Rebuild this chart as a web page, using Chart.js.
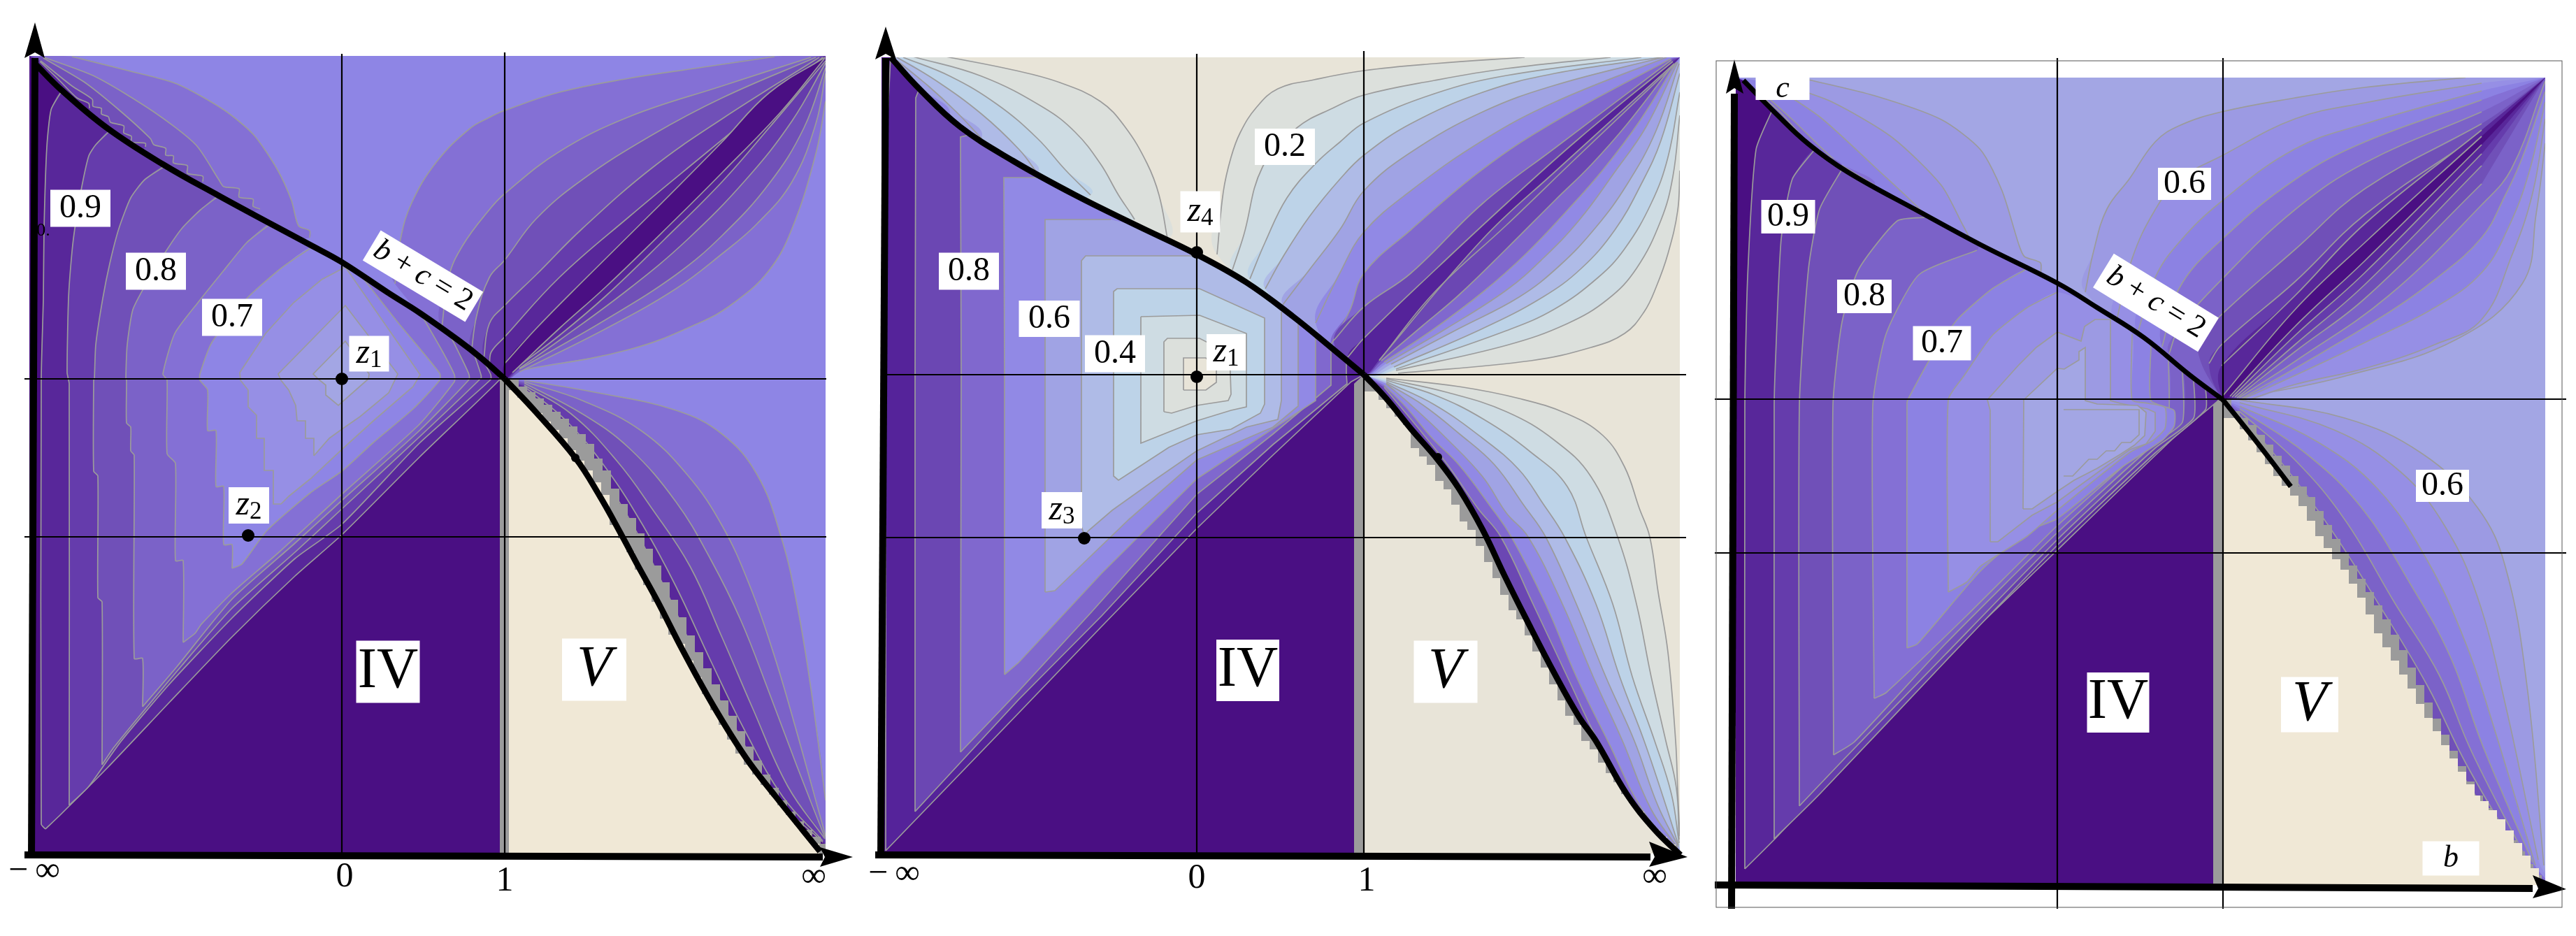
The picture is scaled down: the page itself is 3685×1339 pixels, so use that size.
<!DOCTYPE html>
<html>
<head>
<meta charset="utf-8">
<title>contours</title>
<script src="https://cdn.jsdelivr.net/npm/chart.js@4"></script>
<style>
body { margin: 0; background: #fff; width: 3685px; height: 1339px; overflow: hidden; position: relative; }
canvas { position: absolute; top: 0; }
</style>
</head>
<body>
<canvas id="c1" width="1230" height="1339" style="left:0"></canvas>
<canvas id="c2" width="1210" height="1339" style="left:1230px"></canvas>
<canvas id="c3" width="1245" height="1339" style="left:2440px"></canvas>
<script>
// everything below is in compactified axis units: (-inf,-inf) of each panel is [0,0]

// ---------- panel 1
var p1Curve = [[10,1128],[45,1093],[111,1038],[191,986],[271,941],[345,901],[405,869],[447,846],[512,803],[559,773],[614,734],[646,709],[680,679]];
var p1CurveLow = [[680,679],[725,631],[781,566],[815,513],[848,454],[871,411],[898,362],[935,290],[978,212],[1025,137],[1068,81],[1105,35],[1131,3]];
var p1Upper = [
  [[1066,1140],[958,1124],[858,1109],[758,1089],[680,1063],[658,1053],[630,1037],[583,990],[547,931],[531,879],[523,815]],
  [[1118,1139],[991,1098],[858,1054],[758,1004],[680,944],[658,921],[620,870],[600,825],[590,752]],
  [[1125,1139],[991,1081],[891,1028],[791,964],[725,908],[680,849],[658,824],[640,770],[632,715]],
  [[1130,1139],[991,1051],[891,981],[791,894],[725,828],[680,784],[658,758],[650,708]],
  [[1135,1139],[958,994],[858,911],[758,824],[680,739],[661,718],[658,700]],
  [[1138,1139],[1058,1088],[991,1018],[905,931],[791,818],[725,751],[680,701]]
];
var p1Lower = [
  [[1139,1076],[1125,1001],[1091,894],[1058,834],[1008,788],[958,759],[858,721],[701,691]],
  [[1139,1116],[1125,1044],[1091,961],[1041,901],[991,858],[925,808],[825,751],[701,689]],
  [[1139,1124],[1108,1038],[1058,958],[991,884],[925,828],[825,764],[701,693]],
  [[1139,1131],[1091,1048],[1025,964],[941,878],[858,808],[758,734],[701,694]],
  [[1139,1134],[1058,1038],[991,961],[908,878],[825,798],[758,741],[701,698]],
  [[1138,1138],[1075,1061],[991,974],[925,908],[825,811],[758,751],[691,688]]
];
var p1Right = [
  [[708,677],[808,660],[925,634],[991,600],[1041,542],[1075,454],[1098,357],[1118,236],[1139,76]],
  [[708,675],[791,648],[875,605],[941,542],[991,469],[1031,382],[1065,285],[1098,173],[1139,25]],
  [[708,673],[791,629],[858,580],[925,503],[975,420],[1018,333],[1058,231],[1098,125],[1138,23]],
  [[708,670],[775,629],[841,561],[891,493],[945,411],[991,309],[1035,207],[1085,96],[1138,21]],
  [[708,668],[768,619],[825,551],[878,469],[925,382],[975,275],[1025,173],[1078,81],[1135,18]],
  [[708,665],[758,619],[811,551],[858,479],[908,382],[958,275],[1008,183],[1068,81],[1135,16]]
];
var p1Lobes = [
  [[61,1140],[145,1119],[211,1101],[278,1064],[321,1028],[355,978],[375,934],[385,898],[401,891],[401,881]],
  [[21,1139],[95,1111],[178,1061],[238,1014],[271,964],[278,954],[300,951],[300,939],[320,936],[320,926],[330,922]],
  [[20,1138],[78,1104],[128,1064],[173,1023],[178,1014],[195,1009],[195,999],[206,998],[206,988],[226,984],[226,973],[248,969],[248,961]],
  [[16,1134],[61,1098],[90,1079],[91,1069],[103,1066],[103,1058],[113,1054],[116,1046],[135,1041],[135,1031],[146,1026],[146,1018],[166,1016],[166,1011]],
  [[15,1133],[38,1111],[43,1106],[68,1081],[85,1073],[86,1066]]
];
var p1Stair = [[673,680],[680,679],[700,668],[712,660],[724,651],[736,642],[748,632],[760,622],[772,611],[784,600],[796,586],[808,565],[820,548],[832,522],[844,500],[856,480],[868,458],[880,436],[892,412],[904,388],[916,363],[928,338],[940,312],[952,288],[964,265],[976,242],[988,219],[1000,197],[1012,175],[1024,153],[1036,133],[1048,113],[1060,94],[1072,76],[1084,60],[1096,46],[1108,34],[1120,24],[1132,14],[1139,8]];
var p1Cream = [[686,663],[698,652],[710,641],[722,630],[734,618],[746,606],[758,594],[770,577],[782,562],[794,548],[806,531],[818,513],[830,470],[842,451],[854,431],[866,406],[878,384],[890,360],[902,336],[914,313],[926,300],[938,276],[950,252],[962,228],[974,205],[986,184],[998,163],[1010,143],[1022,127],[1034,113],[1046,98],[1058,84],[1070,69],[1082,55],[1094,41],[1106,28],[1118,14],[1130,2]];
var p1Wedges = [
  { up: [[23,35],[17,42],[17,679],[20,794],[21,894],[25,1011],[31,1064],[45,1089]],
    down: [[672,683],[672,677],[558,567],[447,456],[380,397],[290,310],[201,217],[112,123],[45,56],[23,35]] },
  { up: [[57,69],[57,672],[54,688],[56,794],[61,861],[66,901],[75,954],[85,998],[95,1014],[115,1034]],
    down: [[652,700],[660,685],[660,678],[558,587],[447,471],[380,422],[290,337],[201,243],[130,159],[85,96],[57,69]] },
  { up: [[104,127],[104,360],[98,366],[98,540],[92,547],[92,677],[93,679],[95,728],[105,794],[115,844],[128,894],[145,938],[165,964],[195,984]],
    down: [[635,718],[646,685],[646,680],[558,596],[447,493],[380,431],[290,351],[219,270],[121,152],[104,127]] },
  { up: [[162,210],[162,279],[150,279],[150,570],[145,576],[145,610],[139,616],[139,677],[138,679],[140,728],[148,778],[167,815],[195,861],[218,894],[245,921],[271,941]],
    down: [[600,745],[620,705],[629,685],[629,678],[558,605],[447,505],[380,444],[290,364],[210,266],[162,210]] },
  { up: [[220,302],[220,419],[209,419],[209,558],[197,572],[197,677],[191,686],[208,744],[241,788],[278,834],[311,874],[345,901]],
    down: [[560,772],[590,720],[608,685],[608,675],[558,614],[447,514],[357,431],[290,373],[246,328],[237,315],[220,302]] },
  { up: [[290,408],[290,442],[278,442],[278,525],[267,525],[267,605],[255,605],[255,663],[244,677],[244,686],[261,731],[311,794],[361,838],[405,868]],
    down: [[475,826],[527,760],[587,687],[587,677],[549,636],[491,587],[447,547],[402,516],[340,462],[304,414],[290,408]] }
];
var p1Islands = [
  [[360,500],[349,500],[349,548],[336,548],[336,594],[325,594],[325,627],[313,639],[313,663],[302,677],[301,688],[338,744],[378,788],[418,821],[452,839],[559,685],[549,668],[491,618],[447,578],[402,536],[371,511],[360,500]],
  [[407,569],[407,594],[395,594],[395,619],[383,619],[381,641],[371,663],[360,677],[356,686],[452,784],[527,686],[514,659],[473,625],[447,607],[429,594],[407,569]],
  [[413,679],[406,686],[452,733],[486,686],[485,679],[442,641],[424,656],[424,670],[413,679]]
];
var p1Colors = ['#8E85E5','#8470D5','#7B62C8','#7050B8','#653CAC','#58279A','#4A0F83'];
var p1WedgeColors = ['#58279A','#653CAC','#7050B8','#7B62C8','#8470D5','#8E85E5'];
var p1IslandColors = ['#968FE5','#9D9BE4','#A3A6E4'];
var p1Dots = [[447,679,9],[313,455,9],[781,566,6]];
var p1TickNames = ['\u2212\u2009\u221E','0','1','\u221E'];
var p1TickValues = [7,451,680,1122];
var p1TickDrop = [-26,-34,-40,-34];
var p1Labels = [
  ['0.9',73,923,86,53],['0.8',181,833,86,53],['0.7',290,767,86,53],
  ['z_1',486,715,57,51],['z_2',314,498,58,52],['IV',513,260,91,89],['V',808,263,92,89],
  ['b + c = 2',563,826,171,50,31]
];

// ---------- panel 2
var p2Curve = [[13,1139],[54,1094],[112,1040],[188,991],[277,942],[366,898],[451,857],[522,817],[589,768],[643,724],[690,685]];
var p2CurveLow = [[690,685],[722,651],[757,608],[796,563],[826,522],[860,463],[891,398],[922,336],[963,257],[998,195],[1022,161],[1066,85],[1106,34],[1143,-2]];
var p2Upper = [
  [[920,1139],[791,1130],[690,1120],[619,1107],[567,1094],[536,1067],[513,1031],[500,996],[489,947],[480,857]],
  [[1043,1139],[894,1123],[791,1106],[690,1085],[647,1067],[594,1038],[545,982],[518,884],[502,835]],
  [[1087,1139],[894,1113],[791,1087],[690,1045],[656,1018],[621,987],[580,938],[549,875],[527,822]],
  [[1115,1139],[963,1116],[860,1089],[757,1044],[690,999],[656,965],[612,911],[574,853],[549,808]],
  [[1118,1139],[963,1099],[860,1061],[757,1003],[690,948],[656,893],[612,835],[574,785]],
  [[1123,1139],[963,1075],[860,1020],[757,948],[690,889],[656,831],[621,759]],
  [[1129,1137],[963,1047],[860,979],[757,892],[690,830],[670,777],[643,728]],
  [[1130,1135],[963,1009],[860,930],[757,830],[690,782],[647,734]],
  [[1132,1133],[998,1023],[894,930],[791,834],[690,737],[667,710]]
];
var p2Lower = [
  [[1142,977],[1139,920],[1125,858],[1108,810],[1091,775],[1063,744],[1015,724],[929,705],[739,687]],
  [[1142,1056],[1132,968],[1115,906],[1080,837],[1039,793],[981,758],[894,727],[736,691]],
  [[1142,1089],[1125,996],[1101,930],[1063,865],[1025,824],[963,779],[894,748],[736,693]],
  [[1142,1116],[1115,1020],[1087,958],[1049,892],[1001,837],[946,796],[860,751],[733,696]],
  [[1141,1130],[1108,1034],[1067,958],[1022,896],[970,841],[912,796],[826,751],[729,700]],
  [[1139,1132],[1094,1040],[1049,975],[998,906],[946,851],[894,806],[808,751],[722,701]],
  [[1137,1132],[1084,1047],[1032,978],[981,920],[922,858],[860,803],[791,751],[719,703]],
  [[1135,1132],[1067,1044],[1015,985],[963,934],[894,865],[826,799],[774,755],[715,705]],
  [[1134,1130],[963,975],[860,879],[712,706]]
];
var p2Extra = [[[1134,1128],[998,999],[894,899],[791,803],[712,705]]];
var p2Right = [
  [[722,680],[826,668],[912,651],[981,629],[1032,598],[1063,553],[1084,494],[1099,453],[1111,374],[1125,288],[1136,161],[1139,90],[1142,25]],
  [[722,679],[808,660],[894,632],[963,591],[1015,539],[1053,453],[1080,357],[1101,253],[1122,161],[1137,94],[1141,20]],
  [[722,677],[791,656],[860,622],[929,574],[981,525],[1008,453],[1046,357],[1074,253],[1106,161],[1130,85],[1141,15]],
  [[722,675],[791,642],[860,594],[912,549],[946,501],[977,453],[1022,357],[1056,253],[1091,161],[1120,75],[1140,12]],
  [[722,673],[774,642],[826,601],[877,556],[919,498],[950,453],[994,357],[1036,253],[1077,161],[1110,70],[1140,10]],
  [[722,672],[757,642],[808,594],[860,539],[894,487],[925,453],[974,357],[1018,253],[1060,161],[1100,65],[1139,8]],
  [[719,670],[750,639],[788,594],[826,556],[870,498],[901,453],[950,357],[994,253],[1039,161],[1090,60],[1139,6]],
  [[719,667],[740,642],[774,601],[812,553],[853,494],[886,453],[932,357],[981,253],[1025,161],[1085,55],[1138,5]]
];
var p2Lobes = [
  [[92,1140],[188,1121],[255,1103],[313,1076],[348,1040],[380,987],[397,942],[409,880]],
  [[45,1140],[143,1112],[232,1067],[277,1032],[313,987],[339,942],[357,915],[362,907]],
  [[31,1139],[98,1112],[165,1072],[223,1023],[263,978],[299,942]],
  [[22,1139],[76,1107],[143,1058],[197,1007],[223,973]],
  [[20,1136],[67,1098],[107,1061],[143,1023]],
  [[18,1134],[58,1094],[98,1054]]
];
var p2Cream = [[691,661],[700,661],[711,649],[722,637],[734,625],[746,613],[757,603],[757,580],[769,568],[780,556],[792,533],[804,521],[815,499],[827,475],[838,463],[850,440],[862,417],[874,394],[885,370],[897,348],[908,335],[920,312],[931,289],[943,266],[955,242],[967,219],[978,197],[990,184],[1001,161],[1013,149],[1025,130],[1036,115],[1047,102],[1058,85],[1069,72],[1080,60],[1091,45],[1102,34],[1113,24],[1124,13],[1136,3]];
var p2Wedges = [
  { up: [[6,4],[6,685],[6,1000],[13,1139]],
    down: [[690,685],[672,675],[560,570],[451,465],[315,325],[200,205],[6,4]] },
  { up: [[48,60],[48,685],[49,1081],[54,1094]],
    down: [[665,706],[665,685],[666,672],[560,585],[451,487],[315,340],[196,220],[48,60]] },
  { up: [[113,145],[114,685],[113,1025],[130,1029]],
    down: [[643,724],[643,685],[643,670],[560,600],[451,514],[300,345],[196,232],[113,145]] },
  { up: [[176,256],[176,685],[175,967],[223,967]],
    down: [[621,742],[621,648],[451,536],[315,401],[196,273],[176,256]] },
  { up: [[234,374],[234,907],[328,907]],
    down: [[596,760],[596,640],[560,610],[451,563],[354,478],[248,376],[234,374]] },
  { up: [[291,453],[286,468],[286,848],[292,855],[455,855]],
    down: [[572,775],[572,648],[567,621],[522,610],[451,576],[393,536],[330,491],[295,461],[291,453]] }
];
var p2Islands = [
  [[332,685],[332,804],[337,808],[455,808],[548,766],[548,685],[548,643],[542,630],[500,607],[451,599],[411,581],[362,549],[339,534],[332,540],[332,685]],
  [[371,768],[455,770],[522,744],[522,639],[500,634],[451,619],[411,603],[371,587],[371,768]],
  [[404,632],[404,732],[409,737],[455,737],[498,715],[500,657],[496,648],[451,641],[415,630],[404,632]],
  [[432,663],[432,709],[464,709],[479,692],[479,674],[464,663],[432,663]]
];
var p2Colors = ['#E8E4D8','#DCE0DC','#CEDCE3','#BDD3E8','#AFBBE7','#A0A3E4','#9189E5','#8068CE','#6B47B3','#55239A','#4A0F83'];
var p2WedgeColors = ['#55239A','#6B47B3','#8068CE','#9189E5','#A0A3E4','#AFBBE7'];
var p2IslandColors = ['#BDD3E8','#CEDCE3','#DCE0DC','#E8E4D8'];
var p2Dots = [[451,682,9],[451,860,9],[290,451,9],[796,567,6]];
var p2TickNames = ['\u2212\u2009\u221E','0','1','\u221E'];
var p2TickValues = [18,451,694,1106];
var p2TickDrop = [-30,-36,-40,-34];
var p2Labels = [
  ['0.8',125,833,86,53],['0.6',240,765,87,52],['0.4',334,715,86,53],['0.2',577,1011,86,52],
  ['z_1',493,717,56,52],['z_4',456,918,57,59],['z_3',258,491,58,52],
  ['IV',524,262,90,88],['V',807,260,91,89]
];

// ---------- panel 3
var p3Curve = [[11,1151],[57,1104],[104,1060],[160,1020],[263,963],[350,916],[460,861],[517,826],[584,783],[650,729],[697,694]];
var p3CurveLow = [[697,694],[745,634],[794,570]];
var p3Upper = [
  [[1044,1155],[900,1141],[800,1126],[695,1106],[634,1086],[600,1063],[563,1010],[531,967],[512,907],[500,848]],
  [[1067,1147],[900,1119],[800,1096],[695,1043],[634,1009],[600,966],[567,896],[543,800]],
  [[1067,1136],[900,1089],[800,1053],[695,978],[634,919],[600,869],[575,790]],
  [[1067,1123],[900,1063],[800,1009],[695,923],[634,853],[610,770]],
  [[1067,1106],[900,1033],[800,966],[695,866],[634,796],[620,760]],
  [[1067,1089],[900,996],[800,909],[695,816],[660,776]],
  [[1067,1076],[900,959],[800,863],[695,773],[677,746]],
  [[1067,1080],[900,946],[800,843],[695,743]],
  [[1067,1071],[900,919],[800,823],[697,700]]
];
var p3Lower = [
  [[1158,1061],[1145,960],[1125,860],[1030,780],[872,728],[730,698]],
  [[1158,1096],[1140,990],[1110,900],[1067,809],[1000,773],[900,739],[800,716],[734,694]],
  [[1158,1120],[1135,1020],[1105,940],[1067,876],[1000,826],[900,776],[800,729],[727,696]],
  [[1158,1135],[1125,1040],[1100,985],[1067,926],[1000,866],[934,819],[800,739],[724,696]],
  [[1158,1150],[1110,1025],[1067,973],[934,843],[800,749],[720,697]],
  [[1067,1003],[900,839],[800,763],[717,697]],
  [[1067,1029],[900,859],[800,773],[714,698]],
  [[1067,1046],[900,876],[800,786],[710,698]],
  [[1067,1059],[900,893],[800,799],[707,699]]
];
var p3Right = [
  [[721,694],[871,668],[982,617],[1061,540],[1101,455],[1132,284],[1156,28]],
  [[721,690],[856,651],[951,591],[1014,514],[1061,412],[1101,258],[1148,36]],
  [[721,685],[832,634],[919,566],[990,463],[1045,344],[1085,224],[1144,28]],
  [[721,681],[816,617],[895,540],[966,429],[1022,327],[1069,198],[1140,32]],
  [[721,677],[800,608],[871,523],[943,403],[1006,301],[1053,190],[1136,28]],
  [[721,672],[784,600],[848,514],[919,403],[990,284],[1045,173],[1132,24]],
  [[721,668],[769,600],[824,523],[895,412],[966,284],[1030,173],[1128,19]],
  [[721,664],[753,600],[800,540],[871,420],[950,284],[1014,173],[1124,15]]
];
var p3Lobes = [
  [[104,1152],[199,1129],[294,1095],[350,1052],[381,993],[405,916],[413,899],[436,890],[436,873]],
  [[65,1146],[136,1121],[223,1070],[294,1001],[326,942],[342,916],[373,907],[373,890]],
  [[49,1146],[120,1099],[199,1027],[263,967],[278,946]],
  [[33,1138],[81,1095],[144,1035],[199,1001]],
  [[25,1138],[65,1104],[112,1052],[152,1027]],
  [[21,1134],[49,1104],[89,1065]]
];
var p3Stair = [[683,693],[697,695],[709,678],[721,668],[733,658],[745,644],[757,630],[769,614],[781,600],[793,585],[805,570],[817,555],[829,535],[841,515],[853,495],[865,476],[877,457],[889,438],[901,419],[913,400],[925,380],[937,358],[949,336],[961,311],[973,286],[985,261],[997,238],[1009,215],[1021,192],[1033,170],[1045,148],[1057,128],[1069,110],[1081,94],[1093,78],[1105,64],[1117,48],[1129,30],[1141,14],[1153,4]];
var p3Cream = [[697,668],[709,668],[721,652],[733,636],[745,619],[757,602],[769,585],[781,571],[793,557],[805,542],[817,521],[829,499],[841,482],[853,466],[865,451],[877,431],[889,411],[901,387],[913,360],[925,340],[937,321],[949,301],[961,281],[973,259],[985,239],[997,220],[1009,200],[1021,181],[1033,162],[1045,144],[1057,128],[1065,120],[1077,107],[1089,94],[1101,78],[1113,60],[1125,42],[1137,24],[1149,6]];
var p3Wedges = [
  { up: [[13,23],[13,685],[17,870],[29,1052],[52,1108]],
    down: [[690,700],[690,693],[627,640],[460,479],[250,275],[60,70],[13,23]] },
  { up: [[55,66],[55,685],[57,753],[65,924],[81,1010],[112,1051]],
    down: [[672,712],[672,680],[600,618],[460,486],[300,320],[120,130],[55,66]] },
  { up: [[91,113],[91,685],[104,881],[120,967],[152,1024]],
    down: [[655,723],[655,668],[600,625],[460,494],[300,330],[150,175],[91,113]] },
  { up: [[140,186],[139,685],[152,805],[176,881],[231,950],[270,955]],
    down: [[639,735],[639,662],[600,632],[460,504],[300,345],[170,205],[140,186]] },
  { up: [[198,267],[196,685],[215,788],[262,873],[345,908]],
    down: [[619,752],[619,662],[600,640],[460,514],[330,385],[215,275],[198,267]] },
  { up: [[245,339],[245,690],[247,696],[280,756],[317,809],[367,853],[414,880]],
    down: [[594,772],[594,693],[627,679],[627,656],[610,636],[550,596],[460,524],[417,506],[350,449],[260,345],[245,339]] },
  { up: [[304,419],[304,694],[327,729],[367,786],[417,826],[460,848]],
    down: [[567,788],[567,694],[590,689],[614,683],[614,653],[597,636],[564,619],[460,536],[417,499],[350,456],[330,433],[304,419]] }
];
var p3Islands = [
  [[364,491],[364,679],[360,694],[404,743],[430,769],[460,791],[494,778],[499,799],[514,809],[536,809],[536,693],[550,689],[589,681],[600,676],[600,649],[587,631],[564,623],[530,599],[460,548],[424,529],[375,491],[364,491]],
  [[411,538],[412,694],[460,739],[470,738],[491,751],[491,763],[500,769],[500,693],[517,688],[575,686],[587,676],[585,643],[570,629],[550,616],[517,596],[484,579],[460,563],[424,538],[411,538]],
  [[469,680],[577,680],[577,644],[565,633],[552,633],[542,621],[530,621],[517,609],[505,609],[482,585],[469,585]]
];
var p3Colors = ['#A3A6E4','#9C9AE3','#968FE5','#8C82E3','#8470D5','#7B62C8','#7050B8','#653CAC','#58279A','#4A0F83'];
var p3WedgeColors = ['#58279A','#653CAC','#7050B8','#7B62C8','#8470D5','#8C82E3','#968FE5'];
var p3IslandColors = ['#9C9AE3','#A3A6E4','#A3A6E4'];
var p3Labels = [
  ['c',67,1139,77,32],['0.9',75,956,77,48],['0.8',184,842,78,48],['0.7',295,775,83,49],
  ['0.6',642,1003,76,46],['0.6',1011,571,76,46],['IV',547,261,89,86],['V',821,258,82,79],
  ['b',1023,38,81,49],['b + c = 2',601,833,176,57,31.5]
];

var GRAY = '#9B9B9B';
var CONTOUR = { color: GRAY, width: 1.7 };
var SMOOTH = 0.4;

function between(curve, a, b) {
  return curve.filter(function(p) { return p[0] > a && p[0] < b; });
}

function buildPanel(cfg, view) {
  var sets = [];
  function fill(points, color, stepped, tension) {
    sets.push({ data: points, showLine: true, fill: 'shape', backgroundColor: color, borderWidth: 0,
      borderColor: 'rgba(0,0,0,0)', pointRadius: 0, tension: tension || 0, stepped: stepped || false });
  }
  function line(points, color, width, tension) {
    sets.push({ data: points, showLine: true, fill: false, borderColor: color, borderWidth: width,
      pointRadius: 0, tension: tension || 0, borderCapStyle: 'butt', borderJoinStyle: 'miter' });
  }

  var w = cfg.plotW, h = cfg.plotH, mid = cfg.mid;
  fill([[0,0],[w,0],[w,h],[0,h]], cfg.colors[0]);

  // lenses along the diagonal (1,1)-(inf,inf)
  cfg.upper.forEach(function(up, i) {
    var low = cfg.lower[i];
    fill([[w,h]].concat(up, [mid], low.slice().reverse()), cfg.colors[i + 1], false, SMOOTH);
    line(up, CONTOUR.color, CONTOUR.width, SMOOTH);
    line(low, CONTOUR.color, CONTOUR.width, SMOOTH);
  });
  (cfg.extra || []).forEach(function(p) { line(p, CONTOUR.color, CONTOUR.width, SMOOTH); });

  // top left lobes, closed through a point the wedges paint over
  cfg.lobes.forEach(function(p, i) {
    fill([[0,h]].concat(p, [[0,cfg.anchorY]]), cfg.colors[i + 1], false, cfg.lobeTension);
    line(p, CONTOUR.color, CONTOUR.width, cfg.lobeTension);
  });

  // lower right fans
  cfg.right.forEach(function(p, i) {
    fill(p.concat([[w,0],[mid[0],0],[mid[0],mid[1]]]), cfg.colors[i + 1], false, SMOOTH);
    line(p, CONTOUR.color, CONTOUR.width, SMOOTH);
  });

  if (cfg.teeth) fill(cfg.stair.concat([[w,0],[cfg.darkEnd,0]]), cfg.teeth);
  if (cfg.stair) {
    fill(cfg.stair.concat([[w,0],[cfg.darkEnd,0]]), GRAY, 'before');
  } else {
    fill([[cfg.darkEnd,0],[cfg.darkEnd,cfg.grayTop]].concat(cfg.curveLow, [[cfg.darkEnd,-2]]), GRAY);
  }
  fill(cfg.cream.concat([[cfg.cream[cfg.cream.length - 1][0],0],[cfg.cream[0][0],0]]), cfg.creamColor, 'before');

  // the dark base under and left of everything
  var top = cfg.curve.slice().reverse();
  fill([[0,0],[cfg.darkEnd,0],[cfg.darkEnd,cfg.grayTop]].concat(top, [[0,h]]), cfg.colors[cfg.colors.length - 1]);

  cfg.wedges.forEach(function(t, i) {
    var a = t.up[t.up.length - 1][0], b = t.down[0][0];
    fill(t.up.concat(between(cfg.curve, a, b), t.down), cfg.wedgeColors[i], false, cfg.wedgeTension);
    line(t.up, CONTOUR.color, CONTOUR.width, cfg.wedgeTension);
    line(t.down, CONTOUR.color, CONTOUR.width, cfg.wedgeTension);
  });
  cfg.islands.forEach(function(p, i) {
    fill(p, cfg.islandColors[i]);
    line(p, CONTOUR.color, CONTOUR.width);
  });

  // smoothing can push a fill past the plot edge, cover that with the page colour
  fill([[view[0],view[2]],[0,view[2]],[0,view[3]],[view[0],view[3]]], '#fff');
  fill([[w,view[2]],[view[1],view[2]],[view[1],view[3]],[w,view[3]]], '#fff');
  fill([[view[0],view[2]],[view[1],view[2]],[view[1],0],[view[0],0]], '#fff');
  fill([[view[0],h],[view[1],h],[view[1],view[3]],[view[0],view[3]]], '#fff');

  // thin coordinate lines
  cfg.grid.forEach(function(p) { line(p, '#000', 2.2); });

  // thick curve and axes
  line(cfg.curve, '#000', cfg.curveWidth, SMOOTH);
  line(cfg.curveLow, '#000', cfg.curveWidth, SMOOTH);
  line(cfg.axisY, '#000', 10);
  line(cfg.axisX, '#000', 10);
  fill(cfg.arrowY, '#000');
  fill(cfg.arrowX, '#000');

  // marked points
  (cfg.dots || []).forEach(function(d) {
    sets.push({ data: [[d[0], d[1]]], pointRadius: d[2], pointBackgroundColor: '#000', pointBorderWidth: 0 });
  });

  // first dataset is painted last by default, so flip it
  sets.forEach(function(s, i) { s.order = sets.length - i; });
  return sets;
}

// text on white boxes and the tick names, placed through the scales
function textRuns(text) {
  if (text === 'IV') return [{ t: 'IV', i: false, s: false }];
  var runs = [], parts = text.split('');
  for (var k = 0; k < parts.length; k++) {
    var c = parts[k];
    if (c === '_') { runs.push({ t: parts[++k], i: false, s: true }); continue; }
    runs.push({ t: c, i: /[bczV]/.test(c), s: false });
  }
  return runs;
}

function drawRuns(ctx, text, size) {
  var runs = textRuns(text), total = 0;
  runs.forEach(function(r) {
    ctx.font = (r.i ? 'italic ' : '') + (r.s ? size * 0.7 : size) + 'px "Liberation Serif"';
    r.w = ctx.measureText(r.t).width;
    total += r.w;
  });
  var x = -total / 2;
  runs.forEach(function(r) {
    ctx.font = (r.i ? 'italic ' : '') + (r.s ? size * 0.7 : size) + 'px "Liberation Serif"';
    ctx.fillText(r.t, x, r.s ? size * 0.2 : 0);
    x += r.w;
  });
}

var labelPlugin = {
  id: 'labels',
  afterDatasetsDraw: function(chart) {
    var ctx = chart.ctx, o = chart.options.plugins.labels;
    var sx = chart.scales.x, sy = chart.scales.y;
    ctx.save();
    ctx.textBaseline = 'middle';
    ctx.textAlign = 'left';
    o.boxes.forEach(function(b) {
      var size = 48;
      if (b[0] === 'IV' || b[0] === 'V') size = 82;
      if (b[0].indexOf('z_') === 0) size = 50;
      if (b[0].indexOf('+') > 0) size = 44;
      if (b[0] === 'b' || b[0] === 'c') size = 44;
      ctx.save();
      ctx.translate(sx.getPixelForValue(b[1]), sy.getPixelForValue(b[2]));
      if (b[5]) ctx.rotate(b[5] * Math.PI / 180);
      ctx.fillStyle = '#fff';
      ctx.fillRect(-b[3] / 2, -b[4] / 2, b[3], b[4]);
      ctx.fillStyle = '#000';
      drawRuns(ctx, b[0], size);
      ctx.restore();
    });
    ctx.fillStyle = '#000';
    ctx.textAlign = 'center';
    ctx.font = '50px "Liberation Serif", "DejaVu Serif"';
    (o.ticks || []).forEach(function(name, i) {
      ctx.fillText(name, sx.getPixelForValue(o.tickValues[i]), sy.getPixelForValue(o.tickDrop[i]));
    });
    if (o.stray) {
      ctx.font = '26px "Liberation Serif"';
      ctx.fillText(o.stray[0], sx.getPixelForValue(o.stray[1]), sy.getPixelForValue(o.stray[2]));
    }
    if (o.frame) {
      ctx.strokeStyle = '#555';
      ctx.lineWidth = 1;
      var f = o.frame;
      ctx.strokeRect(sx.getPixelForValue(f[0]), sy.getPixelForValue(f[3]),
        sx.getPixelForValue(f[2]) - sx.getPixelForValue(f[0]), sy.getPixelForValue(f[1]) - sy.getPixelForValue(f[3]));
    }
    ctx.restore();
  }
};

function makeChart(id, cfg, view, opts) {
  new Chart(document.getElementById(id), {
    type: 'scatter',
    data: { datasets: buildPanel(cfg, view) },
    options: {
      responsive: false,
      devicePixelRatio: 1,
      animation: false,
      layout: { padding: 0, autoPadding: false },
      scales: {
        x: { type: 'linear', display: false, min: view[0], max: view[1] },
        y: { type: 'linear', display: false, min: view[2], max: view[3] }
      },
      plugins: { legend: { display: false }, tooltip: { enabled: false }, labels: opts }
    },
    plugins: [labelPlugin]
  });
}

makeChart('c1', {
  plotW: 1139, plotH: 1141, mid: [680,679], anchorY: 800, darkEnd: 673, grayTop: 680, curveWidth: 8.5, lobeTension: 0.25, wedgeTension: 0.2,
  curve: p1Curve, curveLow: p1CurveLow, upper: p1Upper, lower: p1Lower, right: p1Right, lobes: p1Lobes,
  stair: p1Stair, cream: p1Cream, creamColor: '#F0E8D6', wedges: p1Wedges, islands: p1Islands,
  colors: p1Colors, wedgeColors: p1WedgeColors, islandColors: p1IslandColors, dots: p1Dots,
  grid: [[[447,1144],[447,-5]],[[680,1146],[680,-5]],[[-7,679],[1140,679]],[[-7,453],[1140,453]]],
  axisY: [[8,1138],[3,-6]], axisX: [[-7,-2],[1135,-5]],
  arrowY: [[8,1189],[22,1138],[8,1146],[-7,1138]], arrowX: [[1178,-5],[1131,9],[1138,-5],[1131,-19]]
}, [-42,1188,-118,1221], { boxes: p1Labels, ticks: p1TickNames, tickValues: p1TickValues, tickDrop: p1TickDrop, stray: ['0.',20,891] });

makeChart('c2', {
  plotW: 1142, plotH: 1139, mid: [690,685], anchorY: 800, darkEnd: 676, grayTop: 672, curveWidth: 8.5, lobeTension: SMOOTH, wedgeTension: 0,
  curve: p2Curve, curveLow: p2CurveLow, upper: p2Upper, lower: p2Lower, extra: p2Extra, right: p2Right, lobes: p2Lobes,
  cream: p2Cream, creamColor: '#E8E4D8', wedges: p2Wedges, islands: p2Islands,
  colors: p2Colors, wedgeColors: p2WedgeColors, islandColors: p2IslandColors, dots: p2Dots,
  grid: [[[451,1144],[451,-5]],[[690,1148],[690,-5]],[[6,685],[1151,685]],[[6,452],[1151,452]]],
  axisY: [[6,1138],[-1,-6]], axisX: [[-9,-2],[1100,-5]],
  arrowY: [[6,1183],[21,1136],[6,1144],[-9,1136]], arrowX: [[1153,-5],[1098,17],[1106,-5],[1098,-19]]
}, [-31,1179,-118,1221], { boxes: p2Labels, ticks: p2TickNames, tickValues: p2TickValues, tickDrop: p2TickDrop });

makeChart('c3', {
  plotW: 1158, plotH: 1155, mid: [697,695], anchorY: 800, darkEnd: 683, grayTop: 693, curveWidth: 7, lobeTension: 0.25, wedgeTension: 0.2,
  curve: p3Curve, curveLow: p3CurveLow, upper: p3Upper, lower: p3Lower, right: p3Right, lobes: p3Lobes,
  stair: p3Stair, teeth: '#4A0F83', cream: p3Cream, creamColor: '#F0E8D6', wedges: p3Wedges, islands: p3Islands,
  colors: p3Colors, wedgeColors: p3WedgeColors, islandColors: p3IslandColors,
  grid: [[[460,1183],[460,-34]],[[697,1183],[697,-34]],[[-30,695],[1188,695]],[[-30,475],[1188,475]]],
  axisY: [[-2,1132],[-6,-34]], axisX: [[-30,0],[1140,-5]],
  arrowY: [[-2,1181],[11,1132],[-2,1140],[-14,1132]], arrowX: [[1188,-6],[1140,14],[1148,-5],[1140,-19]]
}, [-43,1202,-73,1266], { boxes: p3Labels, frame: [-28,-32,1182,1179] });
</script>
</body>
</html>
